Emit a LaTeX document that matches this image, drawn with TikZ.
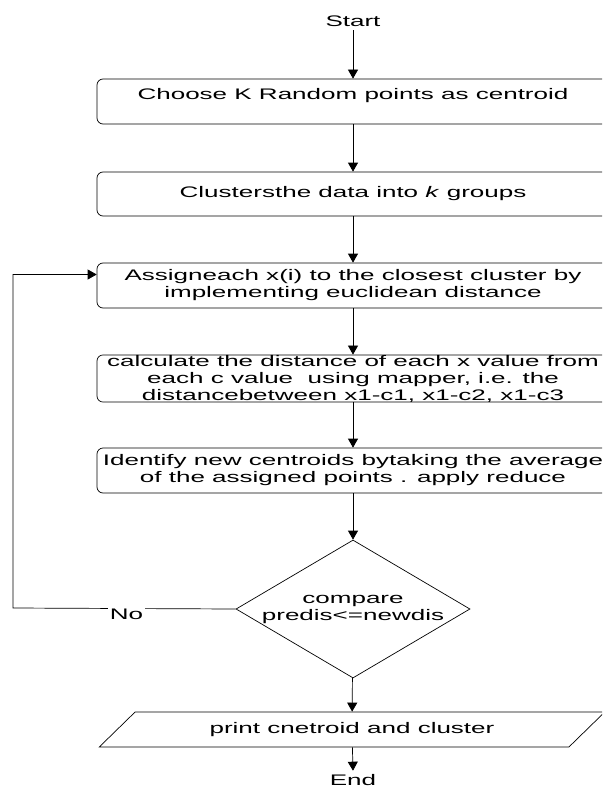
\documentclass[tikz,border=0pt]{standalone}
\usepackage{fontspec}
\setmainfont{Liberation Sans}[FakeStretch=1.7]
\usetikzlibrary{shapes.geometric,arrows.meta}

\begin{document}
\begin{tikzpicture}[x=1pt,y=-1pt,
  every node/.style={font=\fontsize{15.3}{17}\selectfont},
  box/.style={draw,rounded corners=6pt,minimum width=512pt,align=center,inner sep=0pt},
  decision/.style={draw,diamond,aspect=1.7,minimum width=234pt,minimum height=138pt,align=center,inner sep=0pt},
  io/.style={draw,trapezium,trapezium left angle=41,trapezium right angle=139,
    trapezium stretches=true,minimum width=508pt,minimum height=35pt},
  arrow/.style={-{Triangle[width=10pt,length=9pt]},line width=0.7pt},
  line width=0.7pt]
\useasboundingbox (0,0) rectangle (602,789);
\clip (0,0) rectangle (602,789);
\node (start) at (353,21) {Start};
\node [box,minimum height=45pt] (b1) at (353,101.5) {\raisebox{1.5pt}[0pt][0pt]{Choose K Random points as centroid}};
\node [box,minimum height=44pt] (b2) at (353,194) {Clustersthe data into \textit{k} groups};
\node [box,minimum height=45pt] (b3) at (353,285.5) {Assigneach x(i) to the closest cluster by\\implementing euclidean distance};
\node [box,minimum height=47pt] (b4) at (353,378.5) {calculate the distance of each x value from\\each c value\ \ using mapper, i.e. the\\distancebetween x1-c1, x1-c2, x1-c3};
\node [box,minimum height=45pt] (b5) at (353,470.5) {Identify new centroids bytaking the average\\of the assigned points . apply reduce};
\node [decision] (dia) at (353,609) {compare\\predis<=newdis};
\node [io] (pr) at (352,729.5) {print cnetroid and cluster};
\node (end) at (353,780) {End};
\coordinate (loop) at (13,608);
\draw [arrow] (start) -- (b1);
\draw [arrow] (b1) -- (b2);
\draw [arrow] (b2) -- (b3);
\draw [arrow] (b3) -- (b4);
\draw [arrow] (b4) -- (b5);
\draw [arrow] (b5) -- (dia);
\draw [arrow] (dia) -- (pr);
\draw [arrow] (pr) -- (end.north);
\draw [arrow] (dia.west) -- node [pos=0.49,fill=white,inner sep=2pt,yshift=-6pt] {No} (loop) |- ([yshift=11pt]b3.west);
\end{tikzpicture}
\end{document}
